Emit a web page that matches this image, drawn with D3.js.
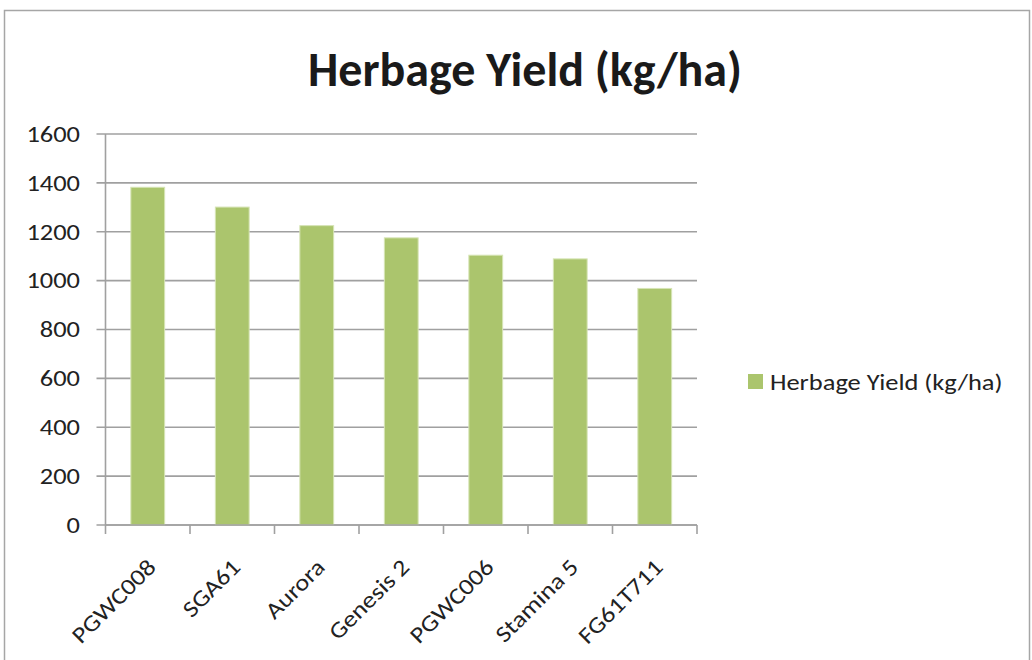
<!DOCTYPE html>
<html><head><meta charset="utf-8">
<script src="https://cdn.jsdelivr.net/npm/d3@7"></script>
<style>body{margin:0;background:#fff}svg{display:block}</style>
</head><body>
<svg id="c" width="1032" height="660"></svg>
<script>
const categories = ["PGWC008","SGA61","Aurora","Genesis 2","PGWC006","Stamina 5","FG61T711"];
const values = [1382, 1301, 1225, 1175, 1104, 1089, 968];
const yTicks = [0,200,400,600,800,1000,1200,1400,1600];
const title = "Herbage Yield (kg/ha)";
const seriesName = "Herbage Yield (kg/ha)";

const svg = d3.select("#c");
const font = "Carlito, Calibri, 'Open Sans', sans-serif";
const fs = 23, sx = 1.15;
svg.append("rect").attr("x",4.5).attr("y",10.5).attr("width",1025).attr("height",660)
  .attr("fill","#fff").attr("stroke","#a6a6a6").attr("stroke-width",1.5);

const m = {l:105.5, r:697, t:134, b:525};
const x = d3.scaleBand().domain(categories).range([m.l, m.r]).paddingInner(0.6).paddingOuter(0.3);
const xb = d3.scaleBand().domain(categories).range([m.l, m.r]);
const y = d3.scaleLinear().domain([0,1600]).range([m.b, m.t]);

// gridlines
svg.append("g").selectAll("line").data(yTicks).join("line")
  .attr("x1",m.l-9).attr("x2",m.r).attr("y1",d=>y(d)).attr("y2",d=>y(d))
  .attr("stroke","#a0a0a0").attr("stroke-width",1.6);

// y axis line
svg.append("line").attr("x1",m.l).attr("x2",m.l).attr("y1",m.t).attr("y2",m.b)
  .attr("stroke","#a0a0a0").attr("stroke-width",1.6);

// y tick labels
svg.append("g").selectAll("text").data(yTicks).join("text")
  .attr("transform",d=>`translate(80,${y(d)}) scale(${sx},1)`)
  .attr("dy","0.34em").attr("text-anchor","end")
  .attr("font-family",font).attr("font-size",fs).attr("fill","#222").text(d=>d);

// bars
svg.append("g").selectAll("rect").data(values).join("rect")
  .attr("x",(d,i)=>x(categories[i])).attr("width",x.bandwidth())
  .attr("y",d=>y(d)).attr("height",d=>y(0)-y(d))
  .attr("fill","#abc56d").attr("stroke","#d6e4b5").attr("stroke-width",1);

// x axis
const bounds = categories.map(c=>xb(c)).concat([m.r]);
svg.append("g").selectAll("line").data(bounds).join("line")
  .attr("x1",d=>d).attr("x2",d=>d).attr("y1",m.b).attr("y2",m.b+9)
  .attr("stroke","#a0a0a0").attr("stroke-width",1.6);
svg.append("line").attr("x1",m.l).attr("x2",m.r).attr("y1",m.b).attr("y2",m.b)
  .attr("stroke","#a0a0a0").attr("stroke-width",1.6);

svg.append("g").selectAll("text").data(categories).join("text")
  .attr("transform",d=>`translate(${xb(d)+xb.bandwidth()/2+4},${m.b+38}) rotate(-45) scale(${sx},1)`)
  .attr("text-anchor","end").attr("dy","0.34em")
  .attr("font-family",font).attr("font-size",fs).attr("fill","#222").text(d=>d);

// title
svg.append("text").attr("x",525).attr("y",86).attr("text-anchor","middle")
  .attr("font-family",font).attr("font-weight","bold").attr("font-size",48).attr("fill","#1a1a1a").text(title);

// legend
svg.append("rect").attr("x",748).attr("y",374).attr("width",15).attr("height",15).attr("fill","#abc56d");
svg.append("text").attr("transform",`translate(770,382) scale(${sx},1)`).attr("dy","0.34em")
  .attr("font-family",font).attr("font-size",fs).attr("fill","#222").text(seriesName);
</script>
</body></html>
